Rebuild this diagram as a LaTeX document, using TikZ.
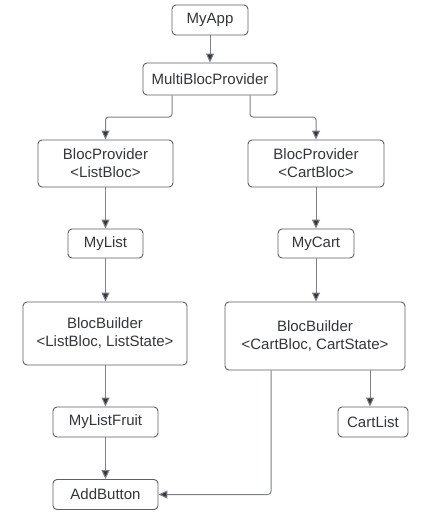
\documentclass[tikz,border=0pt]{standalone}
\usepackage{fontspec}
\setmainfont{Liberation Sans}
\usetikzlibrary{arrows.meta}
\definecolor{txt}{HTML}{33363D}
\definecolor{bord}{HTML}{5E6066}
\definecolor{lin}{HTML}{7E8187}
\begin{document}
\begin{tikzpicture}[x=1pt,y=-1pt,
  box/.style={draw=bord,line width=0.9pt,rounded corners=4pt,fill=white,text=txt,
    font=\fontsize{15}{18}\selectfont,align=center,inner sep=0pt},
  conn/.style={draw=lin,line width=1pt,rounded corners=3pt,
    -{Triangle[length=9pt,width=8pt,fill=txt]}}]
\useasboundingbox (0,0) rectangle (431,519);
\fill[white] (0,0) rectangle (431,519);
\node[box,minimum width=76pt,minimum height=30pt] (app) at (210,20) {MyApp};
\node[box,minimum width=134pt,minimum height=32pt] (multi) at (210,79) {MultiBlocProvider};
\node[box,minimum width=135pt,minimum height=47pt] (bpl) at (105.5,163.5) {BlocProvider\\<ListBloc>};
\node[box,minimum width=136pt,minimum height=47pt] (bpc) at (316,163.5) {BlocProvider\\<CartBloc>};
\node[box,minimum width=75pt,minimum height=29pt] (mylist) at (105.5,243.5) {MyList};
\node[box,minimum width=76pt,minimum height=29pt] (mycart) at (316,243.5) {MyCart};
\node[box,minimum width=164pt,minimum height=63pt] (bbl) at (105,333.5) {BlocBuilder\\<ListBloc, ListState>};
\node[box,minimum width=180pt,minimum height=68pt] (bbc) at (315,336) {BlocBuilder\\<CartBloc, CartState>};
\node[box,minimum width=105pt,minimum height=30pt] (fruit) at (105.5,422) {MyListFruit};
\node[box,minimum width=70pt,minimum height=30pt] (cartlist) at (373,422) {CartList};
\node[box,minimum width=105pt,minimum height=30pt] (add) at (105.5,494.5) {AddButton};
\coordinate (ml) at (172,0);
\coordinate (mr) at (250,0);
\coordinate (cb) at (271,0);
\coordinate (cl) at (370,0);
\draw[conn] (app) -- (multi);
\draw[conn] (multi.south -| ml) |- (105.5,117) -- (bpl.north);
\draw[conn] (multi.south -| mr) |- (316,117) -- (bpc.north);
\draw[conn] (bpl) -- (mylist);
\draw[conn] (bpc) -- (mycart);
\draw[conn] (mylist) -- (bbl.north -| mylist);
\draw[conn] (mycart) -- (bbc.north -| mycart);
\draw[conn] (bbl.south -| fruit) -- (fruit);
\draw[conn] (bbc.south -| cl) -- (cartlist.north -| cl);
\draw[conn] (fruit) -- (add);
\draw[conn] (bbc.south -| cb) |- (add.east);
\end{tikzpicture}
\end{document}
